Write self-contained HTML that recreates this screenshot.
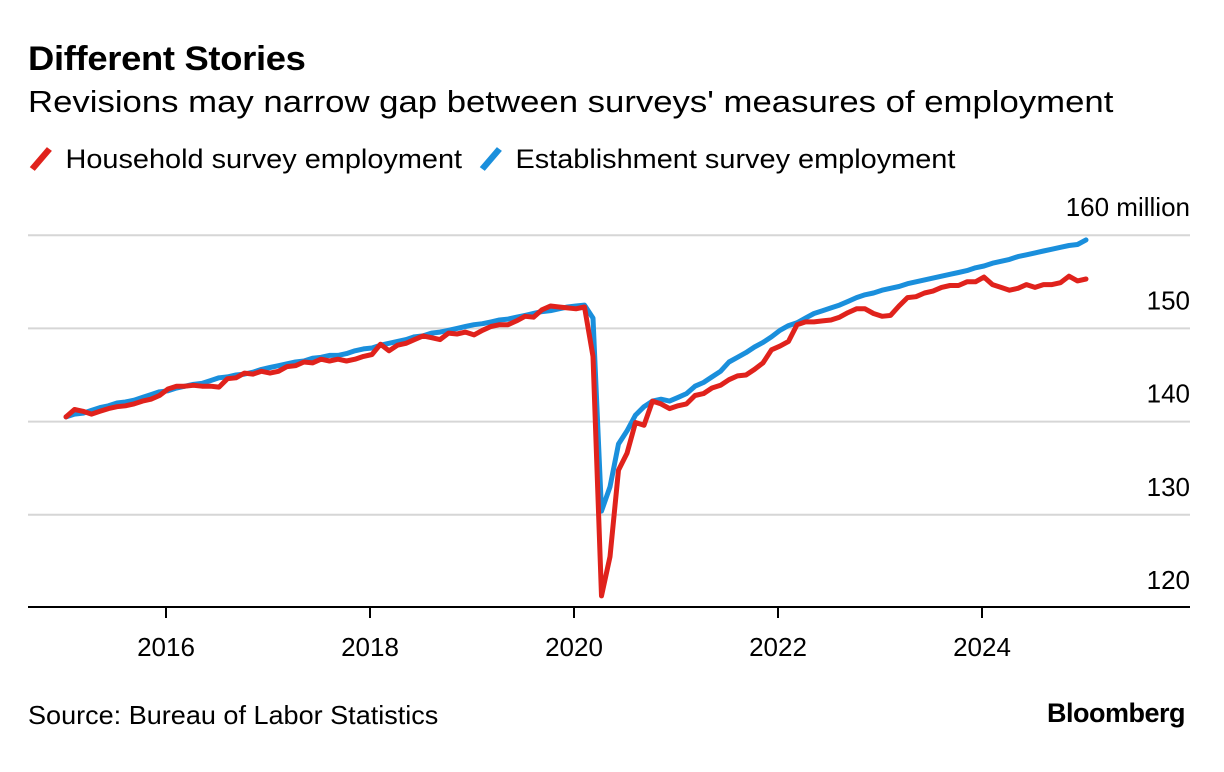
<!DOCTYPE html>
<html><head><meta charset="utf-8"><style>
body{margin:0;background:#fff;font-family:"Liberation Sans",sans-serif;}
#wrap{position:relative;width:1224px;height:772px;overflow:hidden;}
.t{position:absolute;color:#000;white-space:nowrap;transform-origin:left top;}
</style></head><body>
<div id="wrap">
<div class="t" style="left:28px;top:40px;font-size:34px;font-weight:bold;letter-spacing:-0.3px;transform:scaleX(1.07)">Different Stories</div>
<div class="t" style="left:28px;top:84px;font-size:31px;transform:scaleX(1.12)">Revisions may narrow gap between surveys' measures of employment</div>
<div>
<div class="t" style="left:28px;top:144px;font-size:27px;transform:scaleX(1.07)"><svg width="26" height="28" style="vertical-align:-5px;margin-right:9px"><line x1="4" y1="24" x2="20" y2="4" stroke="#e0221c" stroke-width="6"/></svg>Household survey employment</div>
<div class="t" style="left:478px;top:144px;font-size:27px;transform:scaleX(1.07)"><svg width="26" height="28" style="vertical-align:-5px;margin-right:9px"><line x1="4" y1="24" x2="20" y2="4" stroke="#1a8fdc" stroke-width="6"/></svg>Establishment survey employment</div>
</div>
<svg id="chart" width="1224" height="772" style="position:absolute;left:0;top:0"></svg>
<div class="t" style="left:28px;top:700px;font-size:26px;transform:scaleX(1.04)">Source: Bureau of Labor Statistics</div>
<div class="t" style="left:1047px;top:698px;font-size:27px;font-weight:bold;letter-spacing:-0.5px">Bloomberg</div>
</div>
<script>
const yTicks=[120,130,140,150,160];
const yTickLabels=["120","130","140","150","160 million"];
const xTickYears=[2016,2018,2020,2022,2024];
const startYear=2015;
const establishment=[
140.5,140.8,140.9,141.2,141.5,141.7,142.0,142.1,142.3,142.6,142.9,143.2,
143.3,143.6,143.8,144.0,144.1,144.4,144.7,144.8,145.0,145.1,145.3,145.6,
145.8,146.0,146.2,146.4,146.5,146.8,146.9,147.1,147.1,147.3,147.6,147.8,
147.9,148.2,148.4,148.6,148.8,149.1,149.2,149.5,149.6,149.8,150.0,150.2,
150.4,150.5,150.7,150.9,151.0,151.2,151.4,151.6,151.8,151.9,152.1,152.3,
152.4,152.5,151.1,130.4,133.0,137.6,139.0,140.7,141.6,142.2,142.4,142.2,
142.6,143.0,143.8,144.2,144.8,145.4,146.4,146.9,147.4,148.0,148.5,149.1,
149.8,150.3,150.6,151.1,151.6,151.9,152.2,152.5,152.9,153.3,153.6,153.8,
154.1,154.3,154.5,154.8,155.0,155.2,155.4,155.6,155.8,156.0,156.2,156.5,
156.7,157.0,157.2,157.4,157.7,157.9,158.1,158.3,158.5,158.7,158.9,159.0,
159.5];
const household=[
140.5,141.3,141.1,140.8,141.1,141.4,141.6,141.7,141.9,142.2,142.4,142.8,
143.5,143.8,143.8,143.9,143.8,143.8,143.7,144.6,144.7,145.2,145.1,145.4,
145.2,145.4,145.9,146.0,146.4,146.3,146.7,146.5,146.7,146.5,146.7,147.0,
147.2,148.3,147.6,148.2,148.4,148.8,149.2,149.0,148.8,149.5,149.4,149.6,
149.3,149.8,150.2,150.4,150.4,150.8,151.3,151.2,152.0,152.4,152.3,152.2,
152.1,152.3,147.0,121.3,125.5,134.8,136.6,139.9,139.6,142.2,141.9,141.4,
141.7,141.9,142.8,143.0,143.6,143.9,144.5,144.9,145.0,145.6,146.3,147.7,
148.1,148.6,150.4,150.7,150.7,150.8,150.9,151.2,151.7,152.1,152.1,151.6,
151.3,151.4,152.4,153.3,153.4,153.8,154.0,154.4,154.6,154.6,155.0,155.0,
155.5,154.7,154.4,154.1,154.3,154.7,154.4,154.7,154.7,154.9,155.6,155.1,
155.3];
const NS="http://www.w3.org/2000/svg";
const svg=document.getElementById('chart');
const X0=64,PXY=102,Y0=608,PXM=9.32,DATA_SHIFT=2;
const xScale=t=>X0+(t-startYear)*PXY;
const yScale=v=>Y0-(v-120)*PXM;
function mk(tag,attrs){const e=document.createElementNS(NS,tag);for(const k in attrs)e.setAttribute(k,attrs[k]);svg.appendChild(e);return e;}
yTicks.forEach((v,i)=>{
  if(v>120){const g=mk('line',{x1:28,x2:1190,y1:yScale(v),y2:yScale(v),stroke:'#d6d6d6','stroke-width':2});
  
  }
  const t=mk('text',{x:1190,y:yScale(v)-19,'text-anchor':'end','font-size':26,fill:'#000','font-family':'Liberation Sans, sans-serif'});
  t.textContent=yTickLabels[i];
  
  
});
const ax=mk('line',{x1:28,x2:1190,y1:607,y2:607,stroke:'#000','stroke-width':2});


xTickYears.forEach(yr=>{
  const x=xScale(yr);
  const tk=mk('line',{x1:x,x2:x,y1:607,y2:618,stroke:'#000','stroke-width':2});
  
  
  const t=mk('text',{x:x,y:656,'text-anchor':'middle','font-size':26,fill:'#000','font-family':'Liberation Sans, sans-serif'});
  t.textContent=yr;
  
  
});
function series(arr,color,name){
  const d=arr.map((v,i)=>(i?'L':'M')+(xScale(startYear+i/12)+DATA_SHIFT).toFixed(1)+' '+yScale(v).toFixed(1)).join(' ');
  const p=mk('path',{d:d,fill:'none',stroke:color,'stroke-width':5,'stroke-linejoin':'round','stroke-linecap':'round'});
  
  
}
series(establishment,'#1a8fdc','establishment-line');
series(household,'#e0221c','household-line');
</script>
</body></html>
